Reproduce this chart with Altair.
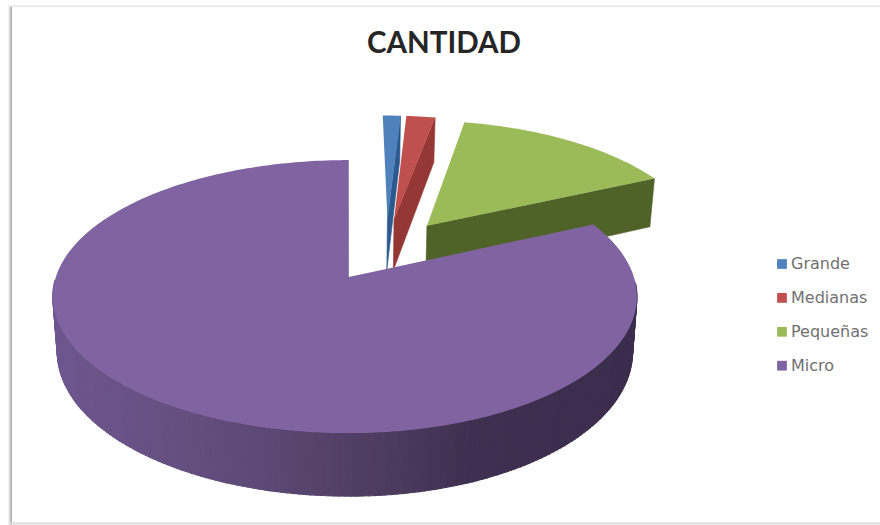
import math
import altair as alt

# Share of companies per size class
segments = ["Grande", "Medianas", "Pequeñas", "Micro"]
shares = [1.2, 1.95, 15.0, 81.85]
top_colors = ["#4f81bd", "#c0504d", "#9bbb59", "#8064a2"]
face_colors = ["#2c5a8f", "#953735", "#4f6228", "#403152"]

# Horizontal shading of the outer wall: page x and its tone
wall_stops_x = [50, 100, 200, 290, 400, 470, 640]
wall_stops_rgb = [
    (0x6e, 0x57, 0x90), (0x6b, 0x54, 0x88), (0x63, 0x4e, 0x7e), (0x59, 0x46, 0x70),
    (0x4a, 0x3a, 0x5c), (0x3f, 0x30, 0x50), (0x3c, 0x2d, 0x4d),
]

# Perspective set-up of the disc, in pixels on the page
APEX_X, APEX_Y = 348, 277
RADIUS_X_LEFT, RADIUS_X_RIGHT, RADIUS_Y = 293, 285, 133.7
DEPTH_K, THICKNESS, BASE_SHRINK, EXPLODE = 0.143, 54, 0.985, 0.25
CENTRE = (0.138, 0.21)


def project(px, pz, base=False):
    s = 1 / (1 + DEPTH_K * pz)
    rx = RADIUS_X_LEFT if px < 0 else RADIUS_X_RIGHT
    shrink = BASE_SHRINK if base else 1
    x = APEX_X + rx * px * s * shrink
    y = APEX_Y - RADIUS_Y * pz * s + (THICKNESS * s if base else 0)
    return [round(x, 2), round(y, 2)]


def rim(origin, deg):
    return origin[0] + math.sin(math.radians(deg)), origin[1] + math.cos(math.radians(deg))


def wall_tone(x):
    for x0, x1, c0, c1 in zip(wall_stops_x, wall_stops_x[1:], wall_stops_rgb, wall_stops_rgb[1:]):
        if x <= x1:
            t = max(0.0, (x - x0) / (x1 - x0))
            return "#%02x%02x%02x" % tuple(round(a + (b - a) * t) for a, b in zip(c0, c1))
    return "#%02x%02x%02x" % wall_stops_rgb[-1]


def feature(ring, **props):
    ring = ring + [ring[0]]
    return {"type": "Feature", "properties": props, "geometry": {"type": "Polygon", "coordinates": [ring]}}


def geo_data(features):
    return alt.InlineData(
        values={"type": "FeatureCollection", "features": features},
        format=alt.DataFormat(type="json", property="features"),
    )


color_scale = alt.Scale(domain=segments, range=top_colors)
legend = alt.Legend(
    title=None, orient="none", legendX=774, legendY=256, symbolType="square", symbolSize=95,
    symbolStrokeWidth=0, labelFont="DejaVu Sans", labelFontSize=16, labelColor="#707070",
    labelOffset=1, rowPadding=17.9, padding=0, labelLimit=120,
)


def shaded(features, width=0.6):
    return alt.Chart(geo_data(features)).mark_geoshape(strokeWidth=width).encode(
        fill=alt.Fill("properties.shade:N", scale=None),
        stroke=alt.Stroke("properties.shade:N", scale=None),
    ).project(type="identity", scale=1, translate=[0, 0])


def surface(feat):
    return alt.Chart(geo_data([feat])).mark_geoshape(strokeWidth=0).encode(
        color=alt.Color("properties.segment:N", scale=color_scale, legend=legend),
    ).project(type="identity", scale=1, translate=[0, 0])


layers = []

# Frame around the chart, with a soft shadow on its left side
for x, shade in zip([8, 9, 10, 11], ["#f2f2f2", "#e0e0e0", "#bdbdbd", "#b5b5b5"]):
    layers.append(alt.Chart().mark_rule(color=shade, strokeWidth=1).encode(
        x=alt.value(x + 0.5), y=alt.value(5), y2=alt.value(525)))
for y, shade, w in [(5.5, "#f0f0f0", 1), (6.5, "#e6e6e6", 1), (523.5, "#dcdcdc", 2)]:
    layers.append(alt.Chart().mark_rule(color=shade, strokeWidth=w).encode(
        y=alt.value(y), x=alt.value(9), x2=alt.value(880)))

start = 0.0
for name, share, face in zip(segments, shares, face_colors):
    end = start + share * 3.6
    mid = (start + end) / 2
    origin = (
        CENTRE[0] + EXPLODE * math.sin(math.radians(mid)),
        CENTRE[1] + EXPLODE * math.cos(math.radians(mid)),
    )
    steps = max(4, int(end - start))
    angles = [start + (end - start) * i / steps for i in range(steps + 1)]
    top_ring = [project(*origin)] + [project(*rim(origin, a)) for a in angles]

    if name == "Micro":
        # Outer wall: thin bands on the front half, following the horizontal shading
        bands = []
        for a, b in zip(angles, angles[1:]):
            if not 92 <= a <= 268:
                continue
            pa, pb = rim(origin, a), rim(origin, b)
            band_x = (project(*pa)[0] + project(*pb)[0]) / 2
            bands.append(feature(
                [project(*pa), project(*pb), project(*pb, base=True), project(*pa, base=True)],
                shade=wall_tone(band_x),
            ))
        layers.append(shaded(bands, width=1.2))
    else:
        # Cut face on the clockwise side of the exploded wedge
        pe = rim(origin, end)
        layers.append(shaded([feature(
            [project(*origin), project(*pe), project(*pe, base=True), project(*origin, base=True)], shade=face,
        )]))

    layers.append(surface(feature(top_ring, segment=name)))
    start = end

chart = alt.layer(*layers).properties(
    width=880,
    height=525,
    padding=0,
    autosize=alt.AutoSizeParams(type="none"),
    title=alt.TitleParams(
        "CANTIDAD", font="Lato", fontSize=29.5, fontWeight="bold", color="#262626",
        anchor="middle", dx=4, dy=82, offset=0, baseline="alphabetic",
    ),
).configure_view(stroke=None)

chart.save("out.html", embed_options={"renderer": "svg", "actions": False})
